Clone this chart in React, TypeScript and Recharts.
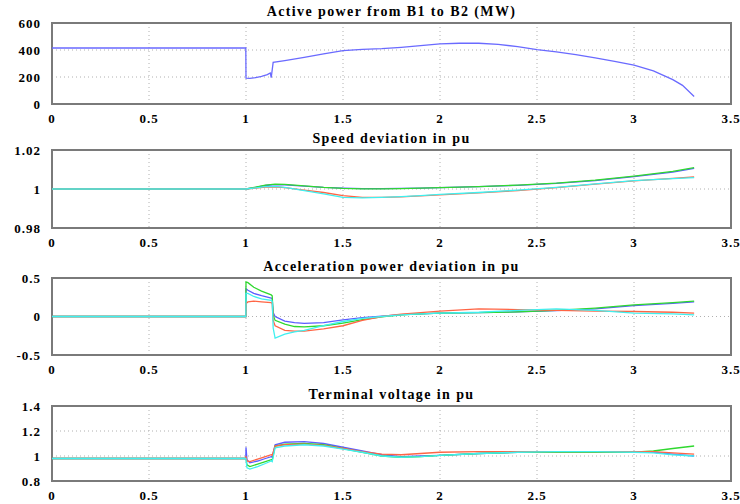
import { LineChart, Line, XAxis, YAxis, CartesianGrid, ReferenceArea } from "recharts";

const xTicks = [0, 0.5, 1, 1.5, 2, 2.5, 3, 3.5];

// active power B1 -> B2
const powerTime = [0, 0.999, 1.0, 1.02, 1.05, 1.08, 1.11, 1.125, 1.13, 1.14, 1.2, 1.3, 1.4, 1.5, 1.6, 1.7, 1.8, 1.9, 2.0, 2.1, 2.2, 2.3, 2.4, 2.5, 2.6, 2.7, 2.8, 2.9, 3.0, 3.1, 3.2, 3.25, 3.31];
const powerMW = [415, 415, 192, 190, 196, 205, 218, 230, 195, 308, 322, 346, 372, 395, 405, 410, 420, 432, 445, 450, 450, 442, 425, 402, 386, 366, 342, 316, 288, 245, 180, 138, 55];

// speed deviation
const speedTime = [0, 1.0, 1.05, 1.1, 1.15, 1.2, 1.3, 1.4, 1.5, 1.6, 1.7, 1.8, 1.9, 2.0, 2.2, 2.4, 2.6, 2.8, 3.0, 3.2, 3.31];
const speedBlue = [1, 1, 1.0008, 1.0018, 1.0022, 1.0021, 1.0015, 1.0008, 1.0004, 1.0002, 1.0002, 1.0003, 1.0005, 1.0007, 1.0012, 1.0019, 1.0029, 1.0043, 1.0063, 1.0087, 1.0106];
const speedGreen = [1, 1, 1.001, 1.002, 1.0025, 1.0024, 1.0016, 1.0008, 1.0003, 1.0001, 1.0001, 1.0002, 1.0004, 1.0007, 1.0012, 1.002, 1.003, 1.0045, 1.0066, 1.009, 1.011];
const speedRed = [1, 1, 1.0005, 1.001, 1.0011, 1.0007, 0.9994, 0.9982, 0.9966, 0.9957, 0.9957, 0.996, 0.9965, 0.997, 0.998, 0.9992, 1.0007, 1.0025, 1.0042, 1.0055, 1.0062];
const speedCyan = [1, 1, 1.0006, 1.0012, 1.0013, 1.0008, 0.9992, 0.9975, 0.9957, 0.9955, 0.9957, 0.9961, 0.9966, 0.9972, 0.9982, 0.9994, 1.0008, 1.0026, 1.0043, 1.0053, 1.0058];

// acceleration power deviation
const accTime = [0, 0.999, 1.0, 1.01, 1.04, 1.08, 1.13, 1.135, 1.14, 1.15, 1.2, 1.25, 1.3, 1.4, 1.5, 1.6, 1.7, 1.8, 1.9, 2.0, 2.2, 2.4, 2.6, 2.8, 3.0, 3.2, 3.31];
const accBlue = [0, 0, 0.36, 0.34, 0.3, 0.27, 0.24, 0.23, 0.05, 0.0, -0.06, -0.08, -0.09, -0.08, -0.045, -0.015, 0.005, 0.025, 0.035, 0.045, 0.05, 0.06, 0.075, 0.1, 0.14, 0.17, 0.19];
const accGreen = [0, 0, 0.45, 0.44, 0.38, 0.33, 0.28, 0.27, 0.02, -0.05, -0.1, -0.13, -0.135, -0.12, -0.085, -0.04, -0.005, 0.02, 0.035, 0.045, 0.05, 0.06, 0.08, 0.11, 0.15, 0.18, 0.2];
const accRed = [0, 0, 0.17, 0.19, 0.2, 0.19, 0.18, 0.17, -0.05, -0.12, -0.18, -0.19, -0.19, -0.16, -0.12, -0.05, 0.0, 0.03, 0.05, 0.07, 0.1, 0.09, 0.08, 0.07, 0.065, 0.055, 0.045];
const accCyan = [0, 0, 0.3, 0.3, 0.26, 0.23, 0.21, 0.2, -0.15, -0.28, -0.23, -0.2, -0.18, -0.12, -0.065, -0.025, 0.0, 0.02, 0.035, 0.045, 0.055, 0.08, 0.1, 0.08, 0.045, 0.035, 0.02];

// terminal voltage
const voltTime = [0, 0.999, 1.0, 1.005, 1.02, 1.06, 1.1, 1.13, 1.135, 1.15, 1.2, 1.3, 1.4, 1.5, 1.6, 1.7, 1.8, 1.9, 2.0, 2.2, 2.4, 2.6, 2.8, 3.0, 3.1, 3.2, 3.31];
const voltBlue = [0.98, 0.98, 1.07, 0.97, 0.945, 0.96, 0.98, 0.995, 0.99, 1.09, 1.11, 1.115, 1.1, 1.07, 1.04, 1.01, 0.995, 1.0, 1.005, 1.02, 1.03, 1.03, 1.03, 1.03, 1.03, 1.015, 1.0];
const voltRed = [0.98, 0.98, 1.0, 0.96, 0.955, 0.975, 0.995, 1.01, 1.005, 1.08, 1.09, 1.095, 1.085, 1.06, 1.035, 1.015, 1.01, 1.02, 1.03, 1.035, 1.035, 1.035, 1.035, 1.035, 1.035, 1.025, 1.015];
const voltGreen = [0.98, 0.98, 0.98, 0.93, 0.915, 0.935, 0.955, 0.97, 0.965, 1.08, 1.095, 1.1, 1.09, 1.06, 1.03, 1.0, 0.99, 0.995, 1.005, 1.02, 1.03, 1.03, 1.03, 1.03, 1.04, 1.06, 1.08];
const voltCyan = [0.98, 0.98, 0.97, 0.905, 0.895, 0.915, 0.94, 0.96, 0.955, 1.065, 1.08, 1.09, 1.08, 1.055, 1.03, 1.0, 0.99, 0.995, 1.005, 1.02, 1.03, 1.035, 1.035, 1.03, 1.025, 1.01, 1.0];

const colors = { blue: "#5c5cff", green: "#2fd82f", red: "#ff6545", cyan: "#3ff0f0" };
const font = { fontFamily: "Liberation Serif", fontSize: 13, fontWeight: "bold" as const, fill: "#000", letterSpacing: 1 };

type Series = { key: string; color: string };

function rows(t: number[], cols: Record<string, number[]>) {
  return t.map((x, i) => {
    const r: Record<string, number> = { t: x };
    for (const k in cols) r[k] = cols[k][i];
    return r;
  });
}

function Panel(props: {
  title: string;
  top: number;
  bottom: number;
  domain: [number, number];
  yTicks: number[];
  data: Record<string, number>[];
  series: Series[];
}) {
  const { title, top, bottom, domain, yTicks, data, series } = props;
  const mt = 10;
  const xh = 22;
  const h = bottom - top + mt + xh;
  return (
    <>
      <div
        style={{
          position: "absolute",
          left: 52,
          width: 679,
          top: top - 19,
          height: 16,
          lineHeight: "16px",
          textAlign: "center",
          fontFamily: "Liberation Serif",
          fontSize: 14,
          letterSpacing: 1.4,
          fontWeight: "bold",
          color: "#000",
          zIndex: 2,
        }}
      >
        {title}
      </div>
      <div style={{ position: "absolute", left: 0, top: top - mt }}>
        <LineChart width={740} height={h} data={data} margin={{ top: mt, right: 9, left: 12, bottom: 0 }}>
          <CartesianGrid stroke="#b0b0b0" strokeDasharray="1 3" />
          <XAxis
            dataKey="t"
            type="number"
            domain={[0, 3.5]}
            ticks={xTicks}
            interval={0}
            height={xh}
            axisLine={false}
            tickLine={false}
            tickMargin={4}
            tick={font}
          />
          <YAxis
            type="number"
            domain={domain}
            ticks={yTicks}
            interval={0}
            width={40}
            axisLine={false}
            tickLine={false}
            tickMargin={5}
            tick={font}
          />
          {series.map((s) => (
            <Line
              key={s.key}
              dataKey={s.key}
              type="linear"
              stroke={s.color}
              strokeWidth={1.3}
              dot={false}
              isAnimationActive={false}
            />
          ))}
          <ReferenceArea
            x1={0}
            x2={3.5}
            y1={domain[0]}
            y2={domain[1]}
            fill="none"
            stroke="#7a7a7a"
            strokeWidth={2}
            ifOverflow="visible"
          />
        </LineChart>
      </div>
    </>
  );
}

const four: Series[] = [
  { key: "blue", color: colors.blue },
  { key: "green", color: colors.green },
  { key: "red", color: colors.red },
  { key: "cyan", color: colors.cyan },
];

export default function App() {
  const powerData = rows(powerTime, { p: powerMW });
  const speedData = rows(speedTime, { blue: speedBlue, green: speedGreen, red: speedRed, cyan: speedCyan });
  const accData = rows(accTime, { blue: accBlue, green: accGreen, red: accRed, cyan: accCyan });
  const voltData = rows(voltTime, { blue: voltBlue, green: voltGreen, red: voltRed, cyan: voltCyan });

  return (
    <div style={{ position: "absolute", left: 0, top: 0, width: 740, height: 504, background: "#fff" }}>
      <Panel
        title="Active power from B1 to B2 (MW)"
        top={23}
        bottom={104}
        domain={[0, 600]}
        yTicks={[0, 200, 400, 600]}
        data={powerData}
        series={[{ key: "p", color: "#6a6aff" }]}
      />
      <Panel
        title="Speed deviation in pu"
        top={150}
        bottom={228}
        domain={[0.98, 1.02]}
        yTicks={[0.98, 1, 1.02]}
        data={speedData}
        series={four}
      />
      <Panel
        title="Acceleration power deviation in pu"
        top={278}
        bottom={355}
        domain={[-0.5, 0.5]}
        yTicks={[-0.5, 0, 0.5]}
        data={accData}
        series={four}
      />
      <Panel
        title="Terminal voltage in pu"
        top={406}
        bottom={481}
        domain={[0.8, 1.4]}
        yTicks={[0.8, 1, 1.2, 1.4]}
        data={voltData}
        series={four}
      />
    </div>
  );
}
